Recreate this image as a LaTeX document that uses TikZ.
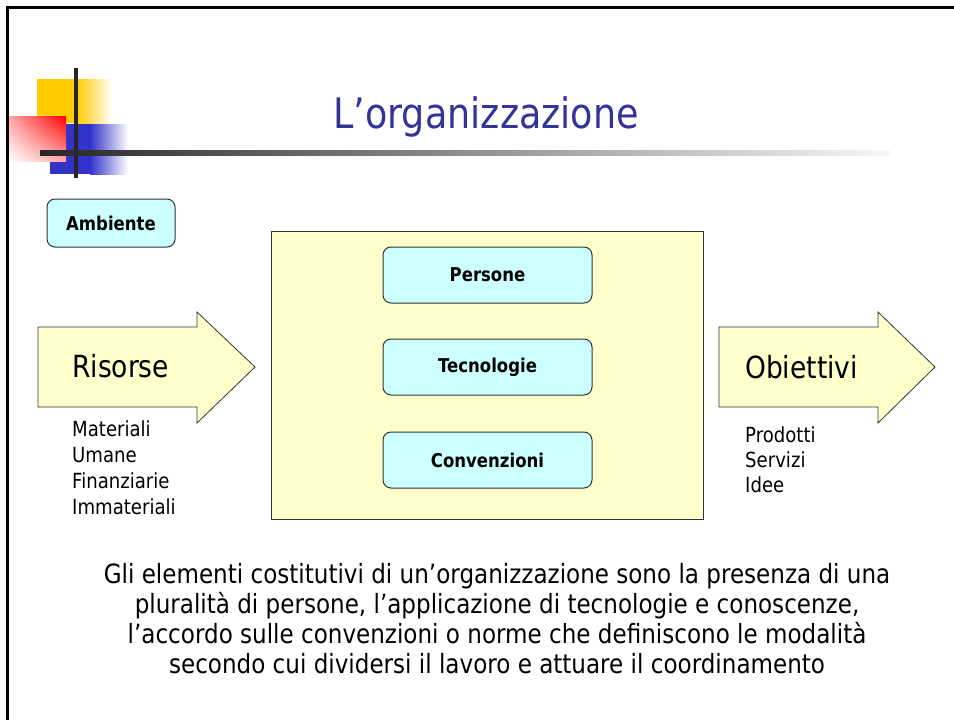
\documentclass[tikz,border=0pt]{standalone}
\usepackage{fontspec}
\setmainfont{DejaVu Sans}[FakeStretch=0.87]
\usepackage{tikz}
\usepackage{xcolor}
\usetikzlibrary{positioning,shadings}

\definecolor{paleyellow}{HTML}{FFFFCC}
\definecolor{palecyan}{HTML}{CCFFFF}
\definecolor{titleblue}{HTML}{333399}
\definecolor{logoyellow}{HTML}{FFCC00}
\definecolor{logoblue}{HTML}{3333CC}
\definecolor{edgegray}{HTML}{333333}

\begin{document}
\begin{tikzpicture}[x=1pt,y=-1pt,
        cbox/.style={draw=edgegray,line width=1pt,fill=palecyan,rounded corners=8pt,inner sep=0pt,outer sep=0pt,
            font=\fontsize{19}{21}\selectfont\bfseries},
        bigtext/.style={anchor=base west,inner sep=0pt,font=\fontsize{30.5}{34}\selectfont},
        smalltext/.style={anchor=base west,inner sep=0pt,font=\fontsize{20.8}{24}\selectfont},
        partext/.style={anchor=base,inner sep=0pt,font=\fontsize{26.5}{30}\selectfont}]
        \useasboundingbox (0,0) rectangle (954,720);
        \draw[line width=3pt] (7.5,720) -- (7.5,7.5) -- (954,7.5);
        \fill[logoyellow] (37,79) rectangle (77,123);
        \shade[left color=logoyellow,right color=white] (77,79) rectangle (112,123);
        \fill[logoblue] (50,124) rectangle (90,174);
        \shade[left color=logoblue,right color=white] (90,124) rectangle (128,174);
        \shade[upper right=red,upper left=red!35,lower right=red!35,lower left=white] (9,116) rectangle (66,161);
        \shade[left color=black!85,right color=black!3] (40,150.5) rectangle (890,155.5);
        \draw[line width=4pt,black!85] (76,68) -- (76,178);
        \node[anchor=base,inner sep=0pt,text=titleblue,font=\fontsize{42}{46}\selectfont] (title) at (486,128) {L’organizzazione};
        \node[cbox,minimum width=128,minimum height=48] (amb) at (111,223) {Ambiente};
        \node[draw=edgegray,line width=1pt,fill=paleyellow,minimum width=432,minimum height=288,inner sep=0pt,outer sep=0pt] (org) at (487,375) {};
        \node[cbox,minimum width=209,minimum height=56] (pers) at (487.5,275) {Persone};
        \node[cbox,minimum width=209,minimum height=56,below=36pt of pers] (tec) {Tecnologie};
        \node[cbox,minimum width=209,minimum height=56,below=37pt of tec] (conv) {Convenzioni};
        \draw[edgegray,line width=0.8pt,fill=paleyellow] (38,327) -- (197,327) -- (197,312) -- (255,367) -- (197,423) -- (197,407) -- (38,407) -- cycle;
        \draw[edgegray,line width=0.8pt,fill=paleyellow] (719,327) -- (878,327) -- (878,312) -- (935,367) -- (878,423) -- (878,407) -- (719,407) -- cycle;
        \node[bigtext] (ris) at (72,377) {Risorse};
        \node[bigtext] (obi) at (745,378) {Obiettivi};
        \foreach \t [count=\i] in {Materiali,Umane,Finanziarie,Immateriali}
            \node[smalltext] (ris\i) at (72,410+26*\i) {\t};
        \foreach \t [count=\i] in {Prodotti,Servizi,Idee}
            \node[smalltext] (obi\i) at (745,417+25*\i) {\t};
        \node[partext] (par1) at (497,583) {Gli elementi costitutivi di un’organizzazione sono la presenza di una};
        \node[partext] (par2) at (497,613) {pluralità di persone, l’applicazione di tecnologie e conoscenze,};
        \node[partext] (par3) at (497,643) {l’accordo sulle convenzioni o norme che definiscono le modalità};
        \node[partext] (par4) at (497,673) {secondo cui dividersi il lavoro e attuare il coordinamento};
    \end{tikzpicture}
\end{document}
